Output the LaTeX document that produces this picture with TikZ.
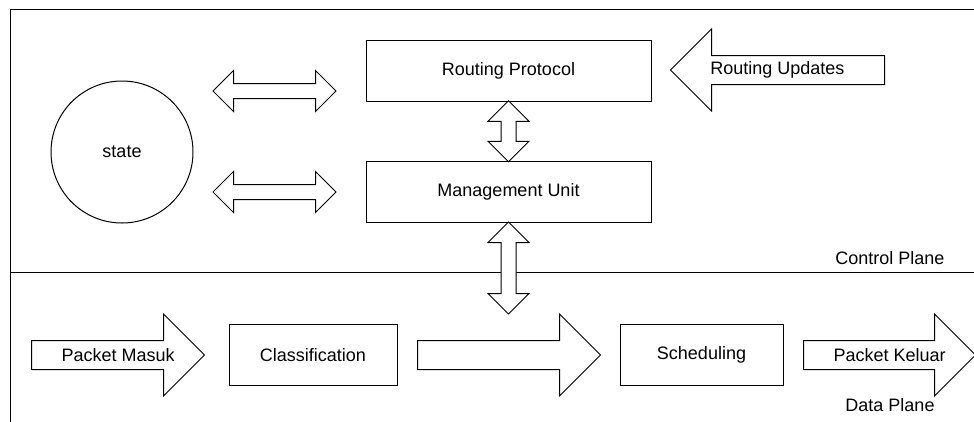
\documentclass[tikz,border=0pt]{standalone}
\usepackage{fontspec}
\setmainfont{Liberation Sans}
\usetikzlibrary{shapes.arrows, positioning, calc}

\tikzset{
  block/.style={draw, rectangle, minimum height=61},
  fat/.style={draw, double arrow, double arrow head extend=13, inner sep=7, fill=white},
  flow/.style={draw, single arrow, single arrow head extend=26.5, text height=13, text depth=4, inner ysep=5.5, inner xsep=0, fill=white, anchor=tail},
}

\begin{document}
\begin{tikzpicture}[x=1pt, y=-1pt, line width=1pt, font=\fontsize{18}{21}\selectfont]
  \useasboundingbox (0,0) rectangle (974,421);
  \begin{scope}
    \clip (0,0) rectangle (974,421);
    \draw (10.5,440) |- (990,9.5);
    \draw (10.5,272) -- (990,272);
  \end{scope}

  % control plane
  \node[draw, circle, minimum size=142] (state) at (122,152) {state};
  \node[block, minimum width=285] (rp) at (508.5,70.5) {Routing Protocol};
  \node[block, minimum width=285] (mu) at (508.5,192) {Management Unit};
  \node[fat, minimum height=123] (sync1) at (274.5,91) {};
  \node[fat, minimum height=123] (sync2) at (274.5,192) {};
  \node[fat, rotate=90, minimum height=61] (link1) at ($(rp.south)!.5!(mu.north)$) {};
  \node[fat, rotate=90, minimum height=92] (link2) at (508.5,268) {};
  \node[flow, shape border rotate=180, minimum height=214] (upd) at (885,70) {};
  \node (updtxt) at ($(upd.tail)!.5!(upd.tip)$) {Routing Updates};
  \node (ctl) at (890,258) {Control Plane};

  % data plane
  \node[flow, minimum height=173] (in) at (31,355) {};
  \node (intxt) at ($(in.tail)!.5!(in.tip)$) {Packet Masuk};
  \node[block, minimum width=168] (cls) at (313,355) {Classification};
  \node[flow, minimum height=183] (mid) at (417,355) {};
  \node[block, minimum width=163] (sch) at (701.5,355) {Scheduling};
  \node[flow, minimum height=172] (out) at (803,355) {};
  \node (outtxt) at ($(out.tail)!.5!(out.tip)$) {Packet Keluar};
  \node (dat) at (890,405) {Data Plane};
\end{tikzpicture}
\end{document}
